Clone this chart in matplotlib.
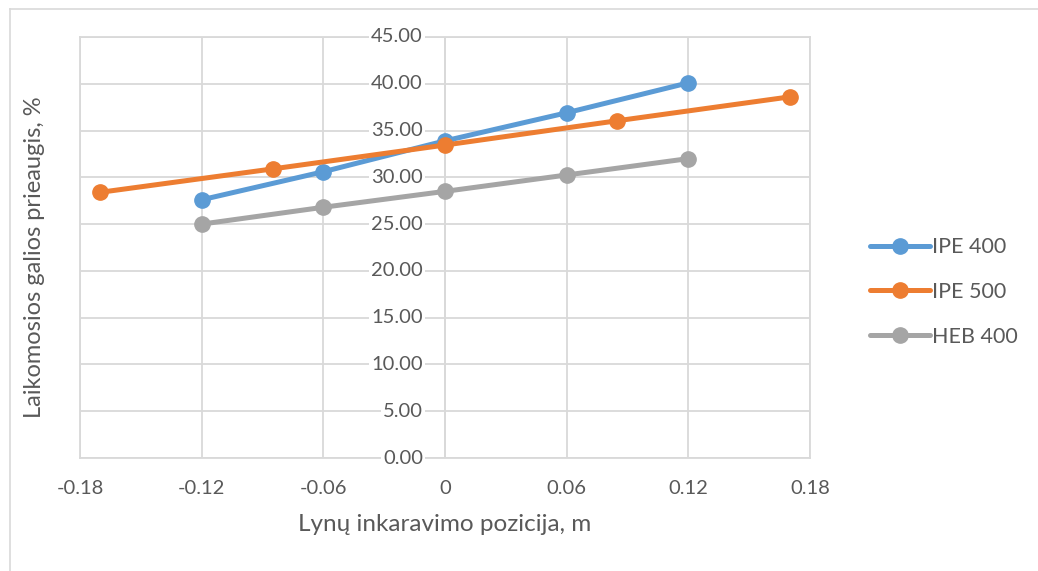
import matplotlib
matplotlib.use("Agg")
import matplotlib.pyplot as plt
from matplotlib.lines import Line2D
from matplotlib.transforms import offset_copy

plt.rcParams['font.family'] = ['Lato', 'DejaVu Sans']

# duomenys
x_ipe400 = [-0.12, -0.06, 0.0, 0.06, 0.12]
y_ipe400 = [27.6, 30.6, 33.9, 36.9, 40.1]

x_ipe500 = [-0.17, -0.085, 0.0, 0.085, 0.17]
y_ipe500 = [28.4, 30.9, 33.45, 36.05, 38.6]

x_heb400 = [-0.12, -0.06, 0.0, 0.06, 0.12]
y_heb400 = [25.0, 26.8, 28.5, 30.25, 32.0]

x_ticks = [-0.18, -0.12, -0.06, 0.0, 0.06, 0.12, 0.18]
x_tick_labels = ['-0.18', '-0.12', '-0.06', '0', '0.06', '0.12', '0.18']
y_ticks = [0, 5, 10, 15, 20, 25, 30, 35, 40, 45]

text_col = '#595959'
grid_col = '#D9D9D9'

fig = plt.figure(figsize=(10.38, 5.71), dpi=100)
ax = fig.add_axes([80 / 1038, 1 - 458 / 571, 730 / 1038, 421 / 571])

series = [
    (x_ipe400, y_ipe400, '#5B9BD5', 'IPE 400'),
    (x_ipe500, y_ipe500, '#ED7D31', 'IPE 500'),
    (x_heb400, y_heb400, '#A5A5A5', 'HEB 400'),
]
for xs, ys, col, lab in series:
    ax.plot(xs, ys, color=col, lw=3.6, marker='o', ms=11, label=lab,
            solid_capstyle='round', zorder=3)

ax.set_xlim(-0.18, 0.18)
ax.set_ylim(0, 45)
ax.set_xticks(x_ticks)
ax.set_xticklabels(x_tick_labels)
ax.set_yticks(y_ticks)
ax.set_yticklabels([])

ax.grid(True, color=grid_col, lw=1.3, zorder=0)
for s in ax.spines.values():
    s.set_color(grid_col)
    s.set_linewidth(1.3)
ax.axvline(0, color=grid_col, lw=1.3, zorder=1)

ax.tick_params(axis='both', length=0, labelsize=14.5, labelcolor=text_col)
ax.tick_params(axis='x', pad=16)

# y reiksmes prie asies x = 0, ant balto fono (tinklelis neina per teksta)
lbl_tr = offset_copy(ax.transData, fig=fig, x=-22, y=0, units='dots')
for v in y_ticks:
    ax.text(0, v, f'{v:.2f}', transform=lbl_tr, ha='right', va='center',
            fontsize=14.5, color=text_col, zorder=4, clip_on=False,
            bbox=dict(facecolor='white', edgecolor='none', pad=1.5))

ax.set_xlabel('Lynų inkaravimo pozicija, m', fontsize=17.5, color=text_col, labelpad=12)
fig.text(35 / 1038, 1 - 257 / 571, 'Laikomosios galios prieaugis, %', rotation=90,
         fontsize=17, color=text_col, ha='center', va='center')

fig.legend(loc='center left', bbox_to_anchor=(870 / 1038, 1 - 292 / 571),
           frameon=False, fontsize=15.5, labelcolor=text_col, handlelength=2.8,
           handletextpad=0.1, labelspacing=1.15, borderpad=0, borderaxespad=0)

# remelis aplink diagrama
fig.add_artist(Line2D([10 / 1038, 1], [1 - 9 / 571, 1 - 9 / 571],
                      transform=fig.transFigure, color='#D9D9D9', lw=1.2))
fig.add_artist(Line2D([10 / 1038, 10 / 1038], [0, 1 - 9 / 571],
                      transform=fig.transFigure, color='#D9D9D9', lw=1.2))

fig.savefig('out.png', dpi=100, facecolor='white')
